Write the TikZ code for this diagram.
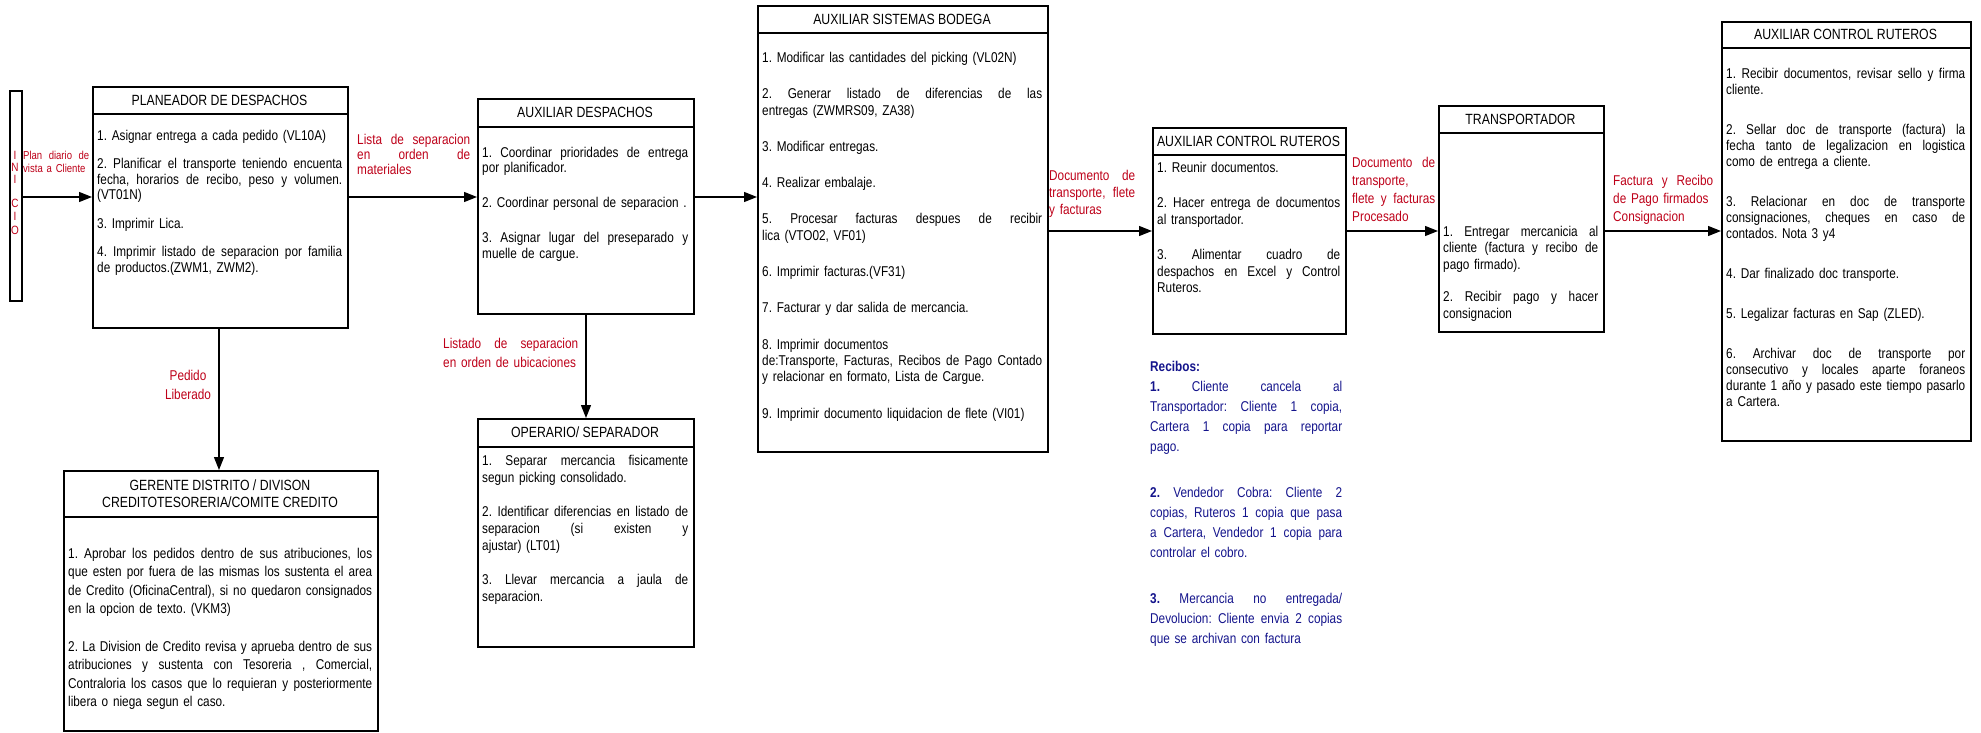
\documentclass[tikz,border=0pt]{standalone}
\usepackage{fontspec}
\setmainfont{Liberation Sans}[FakeStretch=0.83]
\usetikzlibrary{arrows.meta}
\definecolor{lblred}{RGB}{190,0,25}
\definecolor{recblue}{RGB}{20,20,140}
\frenchspacing
\newcommand{\jl}[1]{\makebox[\hsize][s]{\spaceskip=0pt\xspaceskip=0pt #1}}
\tikzset{
  box/.style={draw, line width=1.6pt, inner sep=0pt, anchor=north west},
  hline/.style={line width=1.6pt},
  hdr/.style={inner sep=0pt, align=center, font=\fontsize{14.8}{17.5}\selectfont},
  body/.style={inner sep=0pt, anchor=north west, align=left, font=\fontsize{14.2}{#1}\selectfont},
  body/.default=15.5,
  lbl/.style={inner sep=0pt, anchor=north west, align=left, text=lblred, font=\fontsize{14.2}{#1}\selectfont},
  lbl/.default=15,
  arr/.style={line width=1.3pt, -{Triangle[length=13pt,width=10pt]}},
  ini/.style={inner sep=0pt, text=lblred, font=\fontsize{12}{12}\selectfont}
}
\begin{document}
\begin{tikzpicture}[x=1pt,y=-1pt]
\useasboundingbox (0,0) rectangle (1981,733);
\fill[white] (0,0) rectangle (1981,733);

% ---------- boxes ----------
\node[box, minimum width=12pt, minimum height=210pt] (inicio) at (9,90) {};
\node[ini] (i1) at (15,155) {I};
\node[ini] (i2) at (15,167) {N};
\node[ini] (i3) at (15,179) {I};
\node[ini] (i4) at (15,203) {C};
\node[ini] (i5) at (15,216) {I};
\node[ini] (i6) at (15,230) {O};

\node[box, minimum width=255pt, minimum height=241pt] (plan) at (92,86) {};
\draw[hline] (plan.west |- 0,114) -- (plan.east |- 0,114);
\node[hdr] (planT) at (219.5,100) {PLANEADOR DE DESPACHOS};
\node[body, text width=245pt] (planB) at (97,130) {%
1. Asignar entrega a cada pedido (VL10A)\\[13pt]
\jl{2. Planificar el transporte teniendo encuenta}\\
\jl{fecha, horarios de recibo, peso y volumen.}\\
(VT01N)\\[13pt]
3. Imprimir Lica.\\[13pt]
\jl{4. Imprimir listado de separacion por familia}\\
de productos.(ZWM1, ZWM2).};

\node[box, minimum width=216pt, minimum height=215pt] (adesp) at (477,98) {};
\draw[hline] (adesp.west |- 0,127) -- (adesp.east |- 0,127);
\node[hdr] (adespT) at (585,112.5) {AUXILIAR DESPACHOS};
\node[body, text width=206pt] (adespB) at (482,147) {%
\jl{1. Coordinar prioridades de entrega}\\
por planificador.\\[19.5pt]
\mbox{2. Coordinar personal de separacion .}\\[19.5pt]
\jl{3. Asignar lugar del preseparado y}\\
muelle de cargue.};

\node[box, minimum width=290pt, minimum height=446pt] (asist) at (757,5) {};
\draw[hline] (asist.west |- 0,33) -- (asist.east |- 0,33);
\node[hdr] (asistT) at (902,19) {AUXILIAR SISTEMAS BODEGA};
\node[body=16.3, text width=280pt] (asistB) at (762,52) {%
1. Modificar las cantidades del picking (VL02N)\\[20pt]
\jl{2. Generar listado de diferencias de las}\\
entregas (ZWMRS09, ZA38)\\[20pt]
3. Modificar entregas.\\[20pt]
4. Realizar embalaje.\\[20pt]
\jl{5. Procesar facturas despues de recibir}\\
lica (VTO02, VF01)\\[20pt]
6. Imprimir facturas.(VF31)\\[20pt]
7. Facturar y dar salida de mercancia.\\[20pt]
8. Imprimir documentos\\
\jl{de:Transporte, Facturas, Recibos de Pago Contado}\\
y relacionar en formato, Lista de Cargue.\\[20pt]
9. Imprimir documento liquidacion de flete (VI01)};

\node[box, minimum width=193pt, minimum height=206pt] (acr1) at (1152,127) {};
\draw[hline] (acr1.west |- 0,155) -- (acr1.east |- 0,155);
\node[hdr] (acr1T) at (1248.5,141) {AUXILIAR CONTROL RUTEROS};
\node[body=16.5, text width=183pt] (acr1B) at (1157,162) {%
1. Reunir documentos.\\[19pt]
\jl{2. Hacer entrega de documentos}\\
al transportador.\\[19pt]
\jl{3. Alimentar cuadro de}\\
\jl{despachos en Excel y Control}\\
Ruteros.};

\node[box, minimum width=165pt, minimum height=226pt] (transp) at (1438,105) {};
\draw[hline] (transp.west |- 0,133) -- (transp.east |- 0,133);
\node[hdr] (transpT) at (1520.5,119) {TRANSPORTADOR};
\node[body=16.5, text width=155pt] (transpB) at (1443,226) {%
\jl{1. Entregar mercanicia al}\\
\jl{cliente (factura y recibo de}\\
pago firmado).\\[16pt]
\jl{2. Recibir pago y hacer}\\
consignacion};

\node[box, minimum width=249pt, minimum height=419pt] (acr2) at (1721,21) {};
\draw[hline] (acr2.west |- 0,48) -- (acr2.east |- 0,48);
\node[hdr] (acr2T) at (1845.5,34.5) {AUXILIAR CONTROL RUTEROS};
\node[body=16, text width=239pt] (acr2B) at (1726,68) {%
\jl{1. Recibir documentos, revisar sello y firma}\\
cliente.\\[24pt]
\jl{2. Sellar doc de transporte (factura) la}\\
\jl{fecha tanto de legalizacion en logistica}\\
como de entrega a cliente.\\[24pt]
\jl{3. Relacionar en doc de transporte}\\
\jl{consignaciones, cheques en caso de}\\
contados. Nota 3 y4\\[24pt]
4. Dar finalizado doc transporte.\\[24pt]
5. Legalizar facturas en Sap (ZLED).\\[24pt]
\jl{6. Archivar doc de transporte por}\\
\jl{consecutivo y locales aparte foraneos}\\
\jl{durante 1 año y pasado este tiempo pasarlo}\\
a Cartera.};

\node[box, minimum width=314pt, minimum height=260pt] (ger) at (63,470) {};
\draw[hline] (ger.west |- 0,517) -- (ger.east |- 0,517);
\node[hdr] (gerT) at (220,493.5) {GERENTE DISTRITO / DIVISON\\CREDITOTESORERIA/COMITE CREDITO};
\node[body=18.5, text width=304pt] (gerB) at (68,548) {%
\jl{1. Aprobar los pedidos dentro de sus atribuciones, los}\\
\jl{que esten por fuera de las mismas los sustenta el area}\\
\jl{de Credito (OficinaCentral), si no quedaron consignados}\\
en la opcion de texto. (VKM3)\\[19pt]
\jl{2. La Division de Credito revisa y aprueba dentro de sus}\\
\jl{atribuciones y sustenta con Tesoreria , Comercial,}\\
\jl{Contraloria los casos que lo requieran y posteriormente}\\
libera o niega segun el caso.};

\node[box, minimum width=216pt, minimum height=228pt] (oper) at (477,418) {};
\draw[hline] (oper.west |- 0,447) -- (oper.east |- 0,447);
\node[hdr] (operT) at (585,432.5) {OPERARIO/ SEPARADOR};
\node[body=17, text width=206pt] (operB) at (482,455) {%
\jl{1. Separar mercancia fisicamente}\\
segun picking consolidado.\\[17pt]
\jl{2. Identificar diferencias en listado de}\\
\jl{separacion (si existen y}\\
ajustar) (LT01)\\[17pt]
\jl{3. Llevar mercancia a jaula de}\\
separacion.};

% ---------- note ----------
\node[body=20, text width=192pt, text=recblue] (recibos) at (1150,361) {%
\textbf{Recibos:}\\
\jl{\textbf{1.} Cliente cancela al}\\
\jl{Transportador: Cliente 1 copia,}\\
\jl{Cartera 1 copia para reportar}\\
pago.\\[26pt]
\jl{\textbf{2.} Vendedor Cobra: Cliente 2}\\
\jl{copias, Ruteros 1 copia que pasa}\\
\jl{a Cartera, Vendedor 1 copia para}\\
controlar el cobro.\\[26pt]
\jl{\textbf{3.} Mercancia no entregada/}\\
\jl{Devolucion: Cliente envia 2 copias}\\
que se archivan con factura};

% ---------- connectors ----------
\draw[arr] (inicio.east |- 0,197) -- (plan.west |- 0,197);
\draw[arr] (plan.east |- 0,197) -- (adesp.west |- 0,197);
\draw[arr] (adesp.east |- 0,197) -- (asist.west |- 0,197);
\draw[arr] (asist.east |- 0,231) -- (acr1.west |- 0,231);
\draw[arr] (acr1.east |- 0,231) -- (transp.west |- 0,231);
\draw[arr] (transp.east |- 0,231) -- (acr2.west |- 0,231);
\draw[arr] (plan.south -| 219,0) -- (ger.north -| 219,0);
\draw[arr] (adesp.south -| 586,0) -- (oper.north -| 586,0);

% ---------- labels ----------
\node[lbl=12.5, text width=66pt, font=\fontsize{11.5}{12.5}\selectfont] (lbPlan) at (23,151) {\jl{Plan diario de}\\vista a Cliente};
\node[lbl, text width=113pt] (lbLista) at (357,134) {\jl{Lista de separacion}\\\jl{en orden de}\\materiales};
\node[lbl=19, anchor=north, align=center] (lbPedido) at (188,370) {Pedido\\Liberado};
\node[lbl=19, text width=135pt] (lbListado) at (443,338) {\jl{Listado de separacion}\\en orden de ubicaciones};
\node[lbl=17, text width=86pt] (lbDoc1) at (1049,170) {\jl{Documento de}\\\jl{transporte, flete}\\y facturas};
\node[lbl=18, text width=83pt] (lbDoc2) at (1352,157) {\jl{Documento de}\\transporte,\\\jl{flete y facturas}\\Procesado};
\node[lbl=18, text width=100pt] (lbFact) at (1613,175) {\jl{Factura y Recibo}\\de Pago firmados\\Consignacion};
\end{tikzpicture}
\end{document}
